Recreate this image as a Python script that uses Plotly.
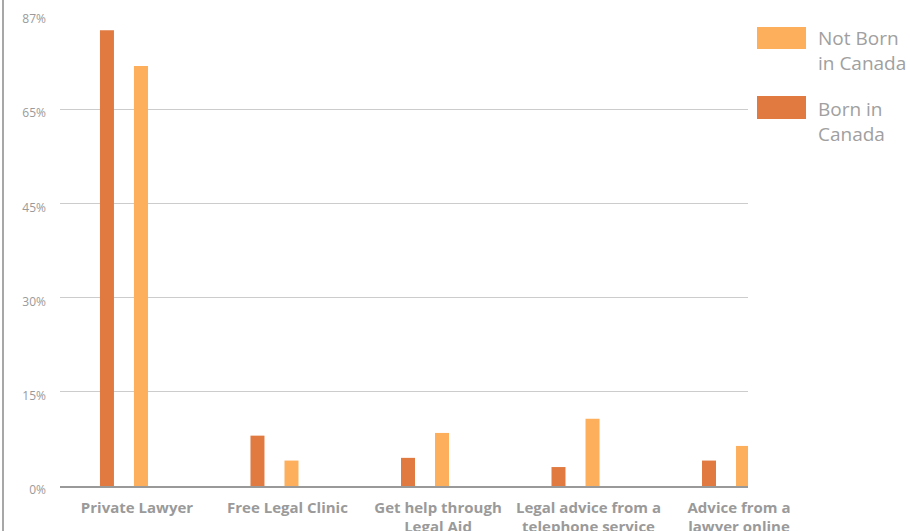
import plotly.graph_objects as go

categories = ["Private Lawyer", "Free Legal Clinic", "Get help through<br>Legal Aid",
              "Legal advice from a<br>telephone service", "Advice from a<br>lawyer online"]
born_in_canada = [84.2, 9.3, 5.2, 3.5, 4.7]
not_born_in_canada = [77.6, 4.7, 9.8, 12.4, 7.4]
y_tick_labels = ["0%", "15%", "30%", "45%", "65%", "87%"]
y_max = 87

DARK = "#E07A40"
LIGHT = "#FDAF5B"
GRAY = "#9a9a9a"

fig = go.Figure()
fig.add_trace(go.Bar(x=categories, y=born_in_canada, name="Born in Canada",
                     marker=dict(color=DARK, line=dict(width=0)),
                     width=0.093, offset=-0.1595, showlegend=False, cliponaxis=False,
                     hoverinfo="skip"))
fig.add_trace(go.Bar(x=categories, y=not_born_in_canada, name="Not Born in Canada",
                     marker=dict(color=LIGHT, line=dict(width=0)),
                     width=0.093, offset=0.0665, showlegend=False, cliponaxis=False,
                     hoverinfo="skip"))

n = len(y_tick_labels) - 1
tickvals = [i * y_max / n for i in range(n + 1)]

L, R, T, B = 60, 748, 15, 486
W, H = R - L, B - T
def px(x): return (x - L) / W
def py(y): return (B - y) / H

shapes = [
    dict(type="rect", xref="paper", yref="paper", x0=px(757), x1=px(806), y0=py(49), y1=py(27),
         fillcolor=LIGHT, line=dict(width=0)),
    dict(type="rect", xref="paper", yref="paper", x0=px(757), x1=px(806), y0=py(119), y1=py(96),
         fillcolor=DARK, line=dict(width=0)),
    dict(type="line", xref="paper", yref="paper", x0=px(3), x1=px(3), y0=py(0), y1=py(531),
         line=dict(color="#8a8a8a", width=1.5)),
]
annotations = [
    dict(xref="paper", yref="paper", x=px(816), y=py(51), xanchor="left", yanchor="middle",
         text="Not Born<br>in Canada", showarrow=False, align="left",
         font=dict(family="Open Sans", size=19, color="#a0a0a0")),
    dict(xref="paper", yref="paper", x=px(816), y=py(122), xanchor="left", yanchor="middle",
         text="Born in<br>Canada", showarrow=False, align="left",
         font=dict(family="Open Sans", size=19, color="#a0a0a0")),
]

fig.update_layout(
    width=910, height=531,
    margin=dict(l=L, r=910 - R, t=T, b=531 - B),
    paper_bgcolor="white", plot_bgcolor="white",
    barmode="overlay", hovermode=False,
    shapes=shapes, annotations=annotations,
    xaxis=dict(type="category", range=[-0.425, 4.146], showgrid=False, automargin=False,
               showline=True, linecolor="#999999", linewidth=1.5,
               tickfont=dict(family="Open Sans", size=15, color=GRAY, weight="bold"),
               ticklabelstandoff=7, ticklabelshift=13, fixedrange=True),
    yaxis=dict(range=[0, y_max], tickvals=tickvals, ticktext=y_tick_labels, automargin=False,
               showgrid=True, gridcolor="#cccccc", gridwidth=1,
               zeroline=False, showline=False,
               tickfont=dict(family="Open Sans", size=12, color=GRAY),
               ticklabelstandoff=13, ticklabelshift=4, fixedrange=True),
    font=dict(family="Open Sans"),
)

fig.write_html("out.html", config={"displayModeBar": False, "staticPlot": True},
               post_script="document.body.style.margin='0';document.body.style.overflow='hidden';")
